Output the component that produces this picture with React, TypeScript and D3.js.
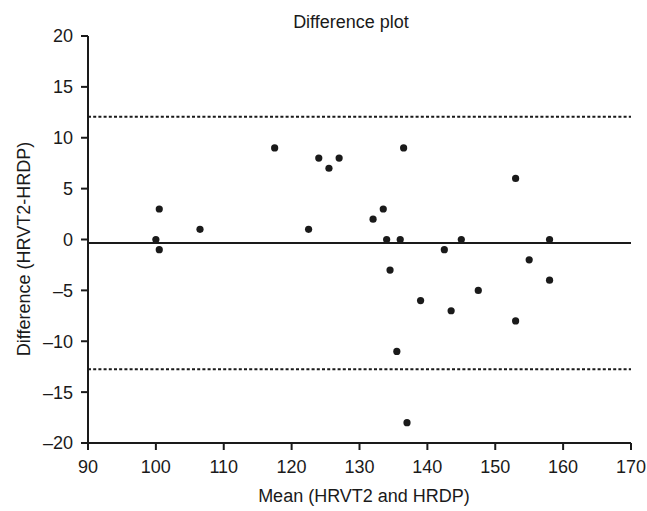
import React from "react";
import * as d3 from "d3";

const meanValues = [100, 100.5, 100.5, 106.5, 117.5, 122.5, 124, 125.5, 127, 132, 133.5, 134, 134.5, 135.5, 136, 136.5, 137, 139, 142.5, 143.5, 145, 147.5, 153, 153, 155, 158, 158];
const diffValues = [0, 3, -1, 1, 9, 1, 8, 7, 8, 2, 3, 0, -3, -11, 0, 9, -18, -6, -1, -7, 0, -5, 6, -8, -2, 0, -4];
const xTicks = [90, 100, 110, 120, 130, 140, 150, 160, 170];
const yTicks = [-20, -15, -10, -5, 0, 5, 10, 15, 20];
const bias = -0.35;
const upperLoA = 12.07;
const lowerLoA = -12.76;

const W = 647;
const H = 511;
const left = 88, right = 631, top = 36, bottom = 443;
const font = "'Liberation Sans', Arial, Helvetica, sans-serif";
const ink = "#1a1a1a";

export default function App() {
  const x = d3.scaleLinear().domain([90, 170]).range([left, right]);
  const y = d3.scaleLinear().domain([-20, 20]).range([bottom, top]);
  const fs = 18;
  return (
    <svg width={W} height={H} style={{ position: "absolute", left: 0, top: 0, background: "#fff" }} fontFamily={font}>
      <text x={351} y={28} textAnchor="middle" fontSize={fs} fill={ink}>Difference plot</text>
      {/* axes */}
      <line x1={left} x2={left} y1={top} y2={bottom} stroke={ink} strokeWidth={2} />
      <line x1={left} x2={right} y1={bottom} y2={bottom} stroke={ink} strokeWidth={2} />
      {yTicks.map((t) => (
        <g key={"y" + t}>
          <line x1={left - 7} x2={left} y1={y(t)} y2={y(t)} stroke={ink} strokeWidth={2} />
          <text x={left - 15} y={y(t)} dy="0.36em" textAnchor="end" fontSize={fs} fill={ink}>
            {t < 0 ? "\u2013" + Math.abs(t) : String(t)}
          </text>
        </g>
      ))}
      {xTicks.map((t) => (
        <g key={"x" + t}>
          <line x1={x(t)} x2={x(t)} y1={bottom} y2={bottom + 7} stroke={ink} strokeWidth={2} />
          <text x={x(t)} y={bottom + 30} textAnchor="middle" fontSize={fs} fill={ink}>{t}</text>
        </g>
      ))}
      {/* reference lines */}
      <line x1={left} x2={right} y1={y(bias)} y2={y(bias)} stroke={ink} strokeWidth={2} />
      <line x1={left} x2={right} y1={y(upperLoA)} y2={y(upperLoA)} stroke={ink} strokeWidth={2} strokeDasharray="3,2.2" />
      <line x1={left} x2={right} y1={y(lowerLoA)} y2={y(lowerLoA)} stroke={ink} strokeWidth={2} strokeDasharray="3,2.2" />
      {/* points */}
      {meanValues.map((m, i) => (
        <circle key={i} cx={x(m)} cy={y(diffValues[i])} r={3.6} fill={ink} />
      ))}
      <text x={364} y={502} textAnchor="middle" fontSize={fs} fill={ink}>Mean (HRVT2 and HRDP)</text>
      <text transform={`translate(30,249) rotate(-90)`} textAnchor="middle" fontSize={fs} fill={ink}>Difference (HRVT2-HRDP)</text>
    </svg>
  );
}
